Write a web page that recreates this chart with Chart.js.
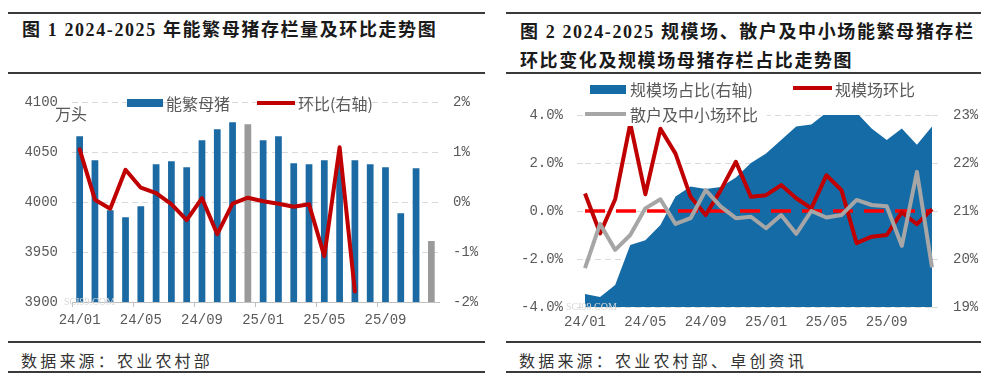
<!DOCTYPE html>
<html><head><meta charset="utf-8">
<script src="https://cdn.jsdelivr.net/npm/chart.js@4"></script>
<style>
body{margin:0;width:996px;height:383px;background:#fff;position:relative;overflow:hidden;font-family:"Noto Sans CJK SC",sans-serif;}
.rule{position:absolute;height:2px;background:#3a3a3a;}
.title{position:absolute;font-family:"Liberation Serif","Noto Sans CJK SC",serif;font-weight:bold;font-size:18px;letter-spacing:1.6px;color:#1a1a1a;white-space:nowrap;line-height:22px;}
.src{position:absolute;font-size:16px;letter-spacing:3.2px;color:#333;white-space:nowrap;line-height:20px;}
.lg{position:absolute;font-size:16px;color:#595959;white-space:nowrap;line-height:20px;}
.sw{position:absolute;}
.wm{position:absolute;font-family:"Liberation Serif",serif;font-size:10px;color:#d8d8d8;white-space:nowrap;}
canvas{display:block;}
</style></head>
<body>
<!-- panel 1 frame -->
<div class="rule" style="left:8px;top:12px;width:477px"></div>
<div class="title" style="left:22px;top:19px">图 1 2024-2025 年能繁母猪存栏量及环比走势图</div>
<div class="rule" style="left:8px;top:72px;width:477px"></div>
<div class="rule" style="left:8px;top:341px;width:477px"></div>
<div class="src" style="left:21px;top:350px">数据来源：农业农村部</div>
<div class="rule" style="left:8px;top:371px;width:477px"></div>

<!-- panel 2 frame -->
<div class="rule" style="left:506px;top:12px;width:475px"></div>
<div class="title" style="left:520px;top:21px">图 2 2024-2025 规模场、散户及中小场能繁母猪存栏</div>
<div class="title" style="left:520px;top:50px">环比变化及规模场母猪存栏占比走势图</div>
<div class="rule" style="left:506px;top:72px;width:475px"></div>
<div class="rule" style="left:506px;top:341px;width:475px"></div>
<div class="src" style="left:519px;top:350px">数据来源：农业农村部、卓创资讯</div>
<div class="rule" style="left:506px;top:371px;width:475px"></div>

<div style="position:absolute;left:0;top:80px;width:490px;height:260px"><canvas id="c1" width="490" height="260"></canvas></div>
<div style="position:absolute;left:498px;top:80px;width:498px;height:260px"><canvas id="c2" width="498" height="260"></canvas></div>

<!-- panel 1 legend -->
<div class="lg" style="left:55px;top:103px">万头</div>
<div class="sw" style="left:127px;top:99px;width:36px;height:8px;background:#1B6AA3"></div>
<div class="lg" style="left:166px;top:93px">能繁母猪</div>
<div class="sw" style="left:257px;top:101px;width:38px;height:4px;background:#C00000"></div>
<div class="lg" style="left:298px;top:93px">环比(右轴)</div>

<!-- panel 2 legend -->
<div class="lg" style="left:585px;top:78px;width:182px;height:48px;background:#fff"></div>
<div class="sw" style="left:590px;top:85px;width:36px;height:9px;background:#156BA6"></div>
<div class="lg" style="left:630px;top:79px">规模场占比(右轴)</div>
<div class="sw" style="left:793px;top:86px;width:39px;height:4px;background:#C00000"></div>
<div class="lg" style="left:835px;top:79px">规模场环比</div>
<div class="sw" style="left:585px;top:112px;width:41px;height:4px;background:#A6A6A6"></div>
<div class="lg" style="left:630px;top:104px">散户及中小场环比</div>

<div class="wm" style="left:64px;top:296px">SCI99.COM</div>
<div class="wm" style="left:566px;top:301px">SCI99.COM</div>

<script>
// ---------- data ----------
const months = ['24/01','24/02','24/03','24/04','24/05','24/06','24/07','24/08','24/09','24/10','24/11','24/12',
                '25/01','25/02','25/03','25/04','25/05','25/06','25/07','25/08','25/09','25/10','25/11','25/12'];
const xTickLabels = ['24/01','24/05','24/09','25/01','25/05','25/09'];

// Figure 1: breeding sow inventory (10k head) and month-on-month change (%)
const sowStock = [4066,4042,3992,3985,3996,4038,4041,4035,4062,4073,4080,4078,
                  4062,4066,4039,4038,4042,4041,4042,4038,4035,3989,4034,3961];
const sowMoM   = [1.06,0.05,-0.13,0.65,0.29,0.18,-0.04,-0.36,0.08,-0.64,-0.03,0.09,
                  0.02,-0.03,-0.09,-0.04,-1.08,1.10,-1.79,null,null,null,null,null];

// Figure 2: share of large-scale farms (%), MoM of large farms and of small/medium farms (%)
const scaleShare = [19.27,19.21,19.46,20.29,20.39,20.71,21.30,21.51,21.46,21.50,21.70,22.00,
                    22.20,22.48,22.76,22.80,23.05,23.10,23.05,22.72,22.48,22.72,22.38,22.76];
const scaleMoM   = [0.73,-0.93,0.49,3.64,0.70,3.43,2.39,0.59,-0.17,0.87,2.05,0.59,
                    0.66,1.08,0.53,0.11,1.49,0.87,-1.34,-1.07,-1.00,-0.05,-0.55,0.08];
const smallMoM   = [-2.38,-0.54,-1.62,-1.00,0.11,0.49,-0.54,-0.30,0.87,0.18,-0.30,-0.24,
                    -0.72,-0.17,-0.95,0.00,-0.27,-0.17,0.46,0.25,0.20,-1.45,1.63,-2.35];
const zeroLine   = [0,0,0,0,0,0,0,0,0,0,0,0,0,0,0,0,0,0,0,0,0,0,0,0];

// ---------- styles ----------
const BLUE = '#1B6AA3', AREA = '#156BA6', GRAY_BAR = '#9A9A9A', RED = '#C00000', GRAY = '#A6A6A6', ZERO = '#FF0000';
const tickFont = {family:'"Liberation Mono", monospace', size:14};
const tickColor = '#595959';
const gridColor = '#D9D9D9';
const showTick = (i) => xTickLabels.includes(months[i]);

Chart.defaults.animation = false;
Chart.defaults.font.family = '"Liberation Mono", monospace';

new Chart(document.getElementById('c1'), {
  type: 'bar',
  data: {
    labels: months,
    datasets: [
      {label:'能繁母猪', data: sowStock, yAxisID:'y', order:2,
       backgroundColor: months.map(m => m.endsWith('/12') ? GRAY_BAR : BLUE),
       barPercentage:0.44, categoryPercentage:1.0},
      {type:'line', label:'环比(右轴)', data: sowMoM, yAxisID:'y1', order:1,
       borderColor: RED, borderWidth:4, pointRadius:0, tension:0, spanGaps:false,
       borderJoinStyle:'round', borderCapStyle:'round'}
    ]
  },
  options: {
    responsive:false, maintainAspectRatio:false,
    layout:{padding:{top:10,left:0,right:0,bottom:0}},
    plugins:{legend:{display:false}, tooltip:{enabled:false}},
    scales:{
      x:{offset:true,
         grid:{display:true, drawOnChartArea:false, drawTicks:true, tickLength:5, offset:true,
               tickColor:(c)=> (c.index!==undefined && c.index < months.length && showTick(c.index)) ? '#BFBFBF' : 'rgba(0,0,0,0)'},
         border:{display:true, color:'#BFBFBF', width:1},
         ticks:{autoSkip:false, maxRotation:0, minRotation:0, padding:5, color:tickColor, font:tickFont,
                callback:(v,i)=> showTick(i) ? months[i] : ''},
         afterFit:(s)=>{s.height=38;}},
      y:{position:'left', min:3900, max:4100,
         ticks:{stepSize:50, padding:14, color:tickColor, font:tickFont, callback:(v)=> String(v)},
         grid:{color:gridColor, drawTicks:false},
         border:{display:false, dash:[6,4]},
         afterFit:(s)=>{s.width=72;}},
      y1:{position:'right', min:-2, max:2,
         ticks:{stepSize:1, padding:14, color:tickColor, font:tickFont, callback:(v)=> v+'%'},
         grid:{drawOnChartArea:false, drawTicks:false},
         border:{display:false},
         afterFit:(s)=>{s.width=51;}}
    }
  }
});

new Chart(document.getElementById('c2'), {
  type: 'line',
  data: {
    labels: months,
    datasets: [
      {label:'规模场占比(右轴)', data: scaleShare, yAxisID:'y1', order:4,
       fill:'start', backgroundColor: AREA, borderColor: AREA, borderWidth:0, pointRadius:0, tension:0},
      {label:'zero', data: zeroLine, yAxisID:'y', order:3,
       borderColor: ZERO, borderWidth:3.5, borderDash:[20,11], pointRadius:0, fill:false},
      {label:'规模场环比', data: scaleMoM, yAxisID:'y', order:2,
       borderColor: RED, borderWidth:4, pointRadius:0, tension:0, fill:false, borderJoinStyle:'round'},
      {label:'散户及中小场环比', data: smallMoM, yAxisID:'y', order:1,
       borderColor: GRAY, borderWidth:4, pointRadius:0, tension:0, fill:false, borderJoinStyle:'round'}
    ]
  },
  options: {
    responsive:false, maintainAspectRatio:false,
    layout:{padding:{top:35,left:0,right:0,bottom:0}},
    plugins:{legend:{display:false}, tooltip:{enabled:false}},
    scales:{
      x:{offset:false,
         grid:{display:false, drawTicks:false},
         border:{display:false},
         ticks:{autoSkip:false, maxRotation:0, minRotation:0, padding:7, color:tickColor, font:tickFont,
                callback:(v,i)=> showTick(i) ? months[i] : ''},
         afterFit:(s)=>{s.height=33;}},
      y:{position:'left', min:-4, max:4,
         ticks:{stepSize:2, padding:14, color:tickColor, font:tickFont, callback:(v)=> v.toFixed(1)+'%'},
         grid:{color:gridColor, drawTicks:true, tickLength:8, tickColor:gridColor, tickBorderDash:[6,4]},
         border:{display:false, dash:[6,4]},
         afterFit:(s)=>{s.width=87;}},
      y1:{position:'right', min:19, max:23,
         ticks:{stepSize:1, padding:13, color:tickColor, font:tickFont, callback:(v)=> v+'%'},
         grid:{drawOnChartArea:false, drawTicks:true, tickLength:8, tickColor:gridColor, tickBorderDash:[6,4]},
         border:{display:false},
         afterFit:(s)=>{s.width=64;}}
    }
  }
});
</script>
</body></html>
